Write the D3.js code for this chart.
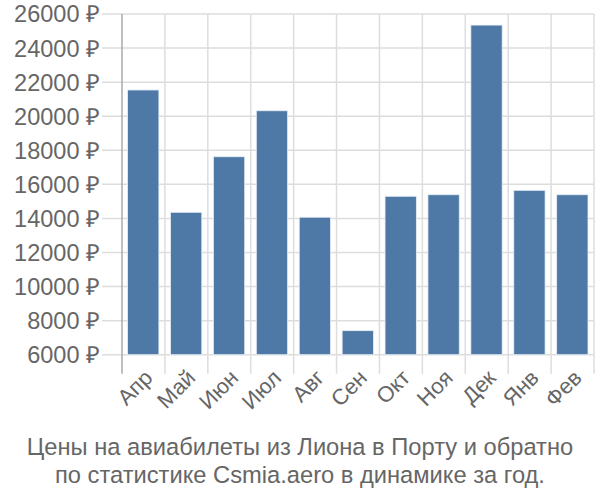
<!DOCTYPE html>
<html><head><meta charset="utf-8">
<script src="https://cdn.jsdelivr.net/npm/d3@7"></script>
<style>body{margin:0;background:#fff}svg{display:block}text{font-family:"Liberation Sans",Arial,sans-serif}</style>
</head><body>
<svg id="c" width="600" height="500"></svg>
<script>
const months = ["Апр","Май","Июн","Июл","Авг","Сен","Окт","Ноя","Дек","Янв","Фев"];
const prices = [21540, 14360, 17620, 20320, 14070, 7410, 15300, 15390, 25350, 15650, 15390];
const yTicks = [6000, 8000, 10000, 12000, 14000, 16000, 18000, 20000, 22000, 24000, 26000];
const titleLines = ["Цены на авиабилеты из Лиона в Порту и обратно", "по статистике Csmia.aero в динамике за год."];

const svg = d3.select("#c");
const L = 122, R = 594, T = 14, B = 354.7;
const x = d3.scaleBand().domain(months).range([L, R]).padding(0);
const y = d3.scaleLinear().domain([6000, 26000]).range([B, T]);
const grid = "#dddddd", txt = "#666666";

// horizontal grid
svg.append("g").selectAll("line").data(yTicks).join("line")
  .attr("x1", L - 20).attr("x2", R).attr("y1", d => y(d)).attr("y2", d => y(d))
  .attr("stroke", grid).attr("stroke-width", 1.5);
// vertical grid
const edges = months.map(m => x(m)).concat([R]);
svg.append("g").selectAll("line").data(edges.slice(1)).join("line")
  .attr("x1", d => d).attr("x2", d => d).attr("y1", T).attr("y2", B + 19)
  .attr("stroke", grid).attr("stroke-width", 1.5);
// y axis line
svg.append("line").attr("x1", L).attr("x2", L).attr("y1", T).attr("y2", B + 19)
  .attr("stroke", "#aaaaaa").attr("stroke-width", 1.5);

// bars
const bw = x.bandwidth();
svg.append("g").selectAll("rect").data(prices).join("rect")
  .attr("x", (d, i) => x(months[i]) + bw * 0.13)
  .attr("width", bw * 0.73)
  .attr("y", d => y(d)).attr("height", d => y(6000) - y(d))
  .attr("fill", "#4e79a7").attr("stroke", "#e8eef5").attr("stroke-width", 0.8);

// y labels
svg.append("g").selectAll("text").data(yTicks).join("text")
  .attr("x", L - 22).attr("y", d => y(d)).attr("dy", "0.36em")
  .attr("text-anchor", "end").attr("fill", txt).attr("font-size", 23.5)
  .text(d => d + " ₽");

// x labels
svg.append("g").selectAll("text").data(months).join("text")
  .attr("transform", d => `translate(${x(d) + bw / 2 + 5},${B + 19}) rotate(-45)`)
  .attr("text-anchor", "end").attr("fill", txt).attr("font-size", 22)
  .attr("dy", "0.35em")
  .text(d => d);

// title
svg.append("g").selectAll("text").data(titleLines).join("text")
  .attr("x", 300).attr("y", (d, i) => 455 + i * 28)
  .attr("text-anchor", "middle").attr("fill", txt).attr("font-size", 23.7)
  .text(d => d);
</script>
</body></html>
